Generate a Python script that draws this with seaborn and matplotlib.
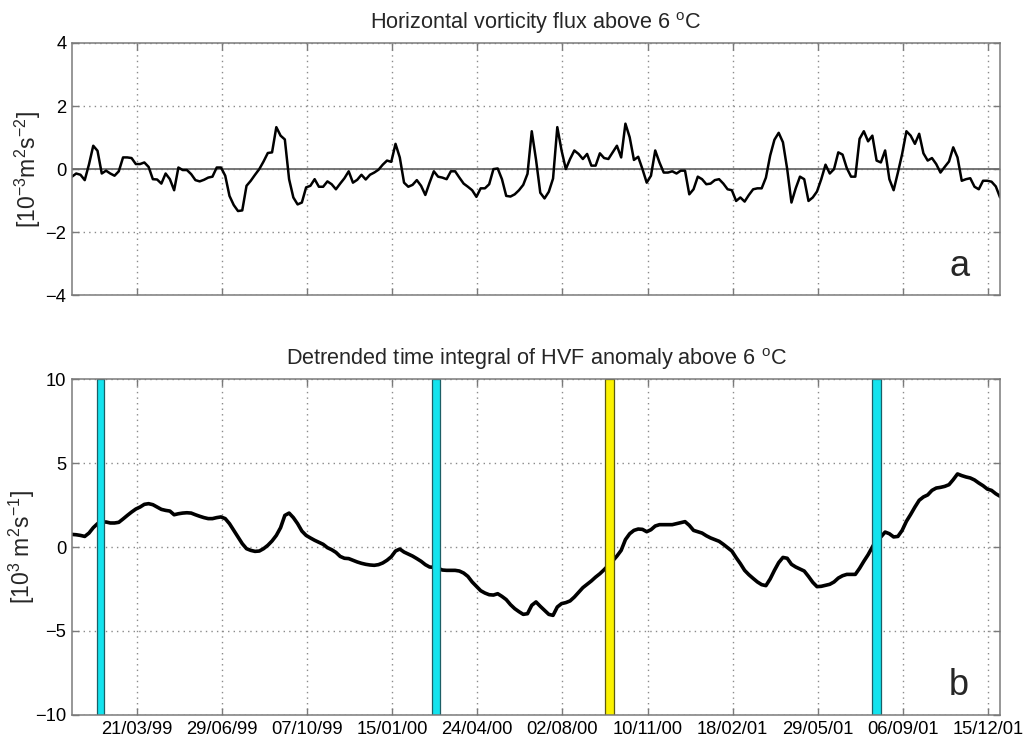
import pandas as pd
import matplotlib
matplotlib.use("Agg")
import matplotlib.pyplot as plt
import matplotlib.dates as mdates
import seaborn as sns

# 5-day sampled series, starting 4 Jan 1999
start_date = "1999-01-04"
sample_step = "5D"

# Horizontal vorticity flux above 6 degC  [1e-3 m^2 s^-2]
hvf = [
    -0.24, -0.14, -0.18, -0.35, 0.15, 0.74, 0.58, -0.14, -0.05, -0.14,
    -0.21, -0.07, 0.37, 0.37, 0.35, 0.16, 0.16, 0.21, 0.07, -0.32,
    -0.33, -0.46, -0.14, -0.32, -0.67, 0.05, -0.03, -0.03, -0.16, -0.35,
    -0.39, -0.34, -0.27, -0.24, 0.05, 0.05, -0.21, -0.85, -1.14, -1.33,
    -1.31, -0.53, -0.37, -0.18, 0.00, 0.24, 0.51, 0.53, 1.33, 1.06,
    0.94, -0.32, -0.90, -1.12, -1.06, -0.58,
    -0.53, -0.32, -0.56, -0.56, -0.39, -0.48, -0.64, -0.46, -0.29, -0.07,
    -0.43, -0.34, -0.18, -0.33, -0.18, -0.11, -0.02, 0.14, 0.27, 0.23,
    0.80, 0.37, -0.43, -0.56, -0.50, -0.35, -0.53, -0.82, -0.43, -0.07,
    -0.24, -0.27, -0.32, -0.07, -0.07, -0.27, -0.46, -0.56, -0.67, -0.88,
    -0.61, -0.61, -0.48, 0.00, 0.02, -0.32, -0.85, -0.87, -0.80, -0.67,
    -0.50, -0.15, 1.20, 0.30,
    -0.75, -0.93, -0.72, -0.30, 1.33, 0.59, 0.00, 0.32, 0.59, 0.48,
    0.32, 0.48, 0.11, 0.11, 0.50, 0.35, 0.32, 0.53, 0.74, 0.37,
    1.44, 1.01, 0.29, 0.39, 0.00, -0.43, -0.21, 0.59, 0.21, -0.11,
    -0.11, -0.07, -0.14, -0.05, -0.05, -0.80, -0.64, -0.24, -0.32, -0.48,
    -0.46, -0.35, -0.32, -0.46, -0.64, -0.67, -1.01, -0.90, -1.03, -0.82,
    -0.64, -0.61, -0.61, -0.27,
    0.43, 0.93, 1.15, 0.85, 0.00, -1.06, -0.61, -0.24, -0.32, -1.01,
    -0.90, -0.71, -0.32, 0.14, -0.14, 0.00, 0.53, 0.46, 0.03, -0.24,
    -0.24, 0.96, 1.20, 0.88, 1.06, 0.27, 0.21, 0.59, -0.32, -0.67,
    -0.11, 0.48, 1.20, 1.06, 0.80, 1.12, 0.50, 0.27, 0.35, 0.16,
    -0.11, 0.07, 0.24, 0.69, 0.37, -0.37, -0.32, -0.29, -0.56, -0.64,
    -0.37, -0.37, -0.40, -0.55, -0.90,
]

# Detrended time integral of the HVF anomaly  [1e3 m^2 s^-1]
hvf_integral = [
    0.75, 0.73, 0.69, 0.63, 0.83, 1.15, 1.39, 1.47, 1.49, 1.43,
    1.43, 1.47, 1.67, 1.88, 2.08, 2.26, 2.38, 2.54, 2.58, 2.52,
    2.38, 2.24, 2.18, 2.14, 1.92, 1.98, 2.02, 2.04, 2.02, 1.92,
    1.83, 1.75, 1.69, 1.69, 1.75, 1.79, 1.69, 1.39, 0.99, 0.60,
    0.20, -0.10, -0.20, -0.26, -0.24, -0.10, 0.10, 0.36, 0.69, 1.15,
    1.88, 2.02, 1.75, 1.39, 0.95, 0.69, 0.54, 0.40, 0.28, 0.16,
    -0.04, -0.16, -0.32, -0.56, -0.67, -0.69, -0.79, -0.89, -0.97, -1.03,
    -1.07, -1.09, -1.05, -0.95, -0.79,
    -0.58, -0.24, -0.12, -0.30, -0.42, -0.54, -0.69, -0.85, -1.05, -1.19,
    -1.21, -1.27, -1.37, -1.39, -1.39, -1.39, -1.43, -1.55, -1.75, -2.08,
    -2.34, -2.60, -2.74, -2.84, -2.86, -2.78, -2.94, -3.13, -3.43, -3.67,
    -3.85, -4.01, -3.97, -3.47, -3.27, -3.53, -3.77, -4.01, -4.07, -3.57,
    -3.37, -3.31, -3.21, -2.98, -2.70, -2.42, -2.22, -2.02, -1.79, -1.59,
    -1.35, -1.09, -0.83, -0.54, -0.20, 0.44, 0.79, 0.99, 1.07, 1.05,
    0.91, 1.03, 1.25, 1.33, 1.33, 1.33, 1.33, 1.39, 1.45, 1.51,
    1.29, 0.99,
    0.91, 0.83, 0.67, 0.54, 0.44, 0.34, 0.16, -0.04, -0.24, -0.63,
    -0.99, -1.39, -1.65, -1.87, -2.08, -2.24, -2.30, -1.90, -1.39, -0.93,
    -0.62, -0.67, -1.03, -1.19, -1.31, -1.43, -1.75, -2.10, -2.36, -2.34,
    -2.28, -2.22, -2.08, -1.85, -1.71, -1.63, -1.63, -1.63, -1.27, -0.85,
    -0.46, 0.00, 0.44, 0.60, 0.89, 0.79, 0.60, 0.63, 0.99, 1.53,
    1.94, 2.38, 2.78, 2.98, 3.10, 3.37, 3.51, 3.55, 3.61, 3.71,
    4.01, 4.35, 4.25, 4.17, 4.11, 3.99, 3.81, 3.65, 3.45, 3.37,
    3.17, 3.02,
]

# Marked events (start, end)
cyan_events = [("1999-02-02", "1999-02-11"),
               ("2000-03-02", "2000-03-11"),
               ("2001-08-01", "2001-08-11")]
yellow_events = [("2000-09-21", "2000-10-01")]

# Date ticks every 100 days
first_tick = "1999-03-21"
n_ticks = 11

flux_ticks = [-4, -2, 0, 2, 4]
integral_ticks = [-10, -5, 0, 5, 10]

title_top = r"Horizontal vorticity flux above 6 $^{\rm o}$C"
title_bottom = r"Detrended time integral of HVF anomaly above 6 $^{\rm o}$C"
ylabel_top = r"[10$^{-3}$m$^{2}$s$^{-2}$]"
ylabel_bottom = r"[10$^{3}$ m$^{2}$s$^{-1}$]"

sns.set_theme(style="white")
plt.rcParams["font.family"] = ["Liberation Sans", "DejaVu Sans"]
plt.rcParams["mathtext.fontset"] = "custom"
plt.rcParams["mathtext.rm"] = "Liberation Sans"
plt.rcParams["mathtext.it"] = "Liberation Sans:italic"
plt.rcParams["mathtext.default"] = "regular"

dates = pd.date_range(start_date, periods=len(hvf), freq=sample_step)
df = pd.DataFrame({"date": dates, "hvf": hvf, "integral": hvf_integral})
ticks = pd.date_range(first_tick, periods=n_ticks, freq="100D")

fig = plt.figure(figsize=(10.31, 7.40), dpi=100)
ax1 = fig.add_axes([0.0698, 0.601, 0.9002, 0.341])
ax2 = fig.add_axes([0.0698, 0.0338, 0.9002, 0.454])

frame_col = "#7a7a7a"
grid_col = "#8a8a8a"

sns.lineplot(data=df, x="date", y="hvf", ax=ax1, color="black", lw=1.8, zorder=3)
ax1.axhline(0, color="#6a6a6a", lw=1.3, zorder=2)

sns.lineplot(data=df, x="date", y="integral", ax=ax2, color="black", lw=2.6, zorder=3)
for s, e in cyan_events:
    ax2.axvspan(pd.Timestamp(s), pd.Timestamp(e), facecolor="#13e3ee",
                edgecolor="#1c5f66", lw=0.9, zorder=4)
for s, e in yellow_events:
    ax2.axvspan(pd.Timestamp(s), pd.Timestamp(e), facecolor="#fbf200",
                edgecolor="#5d5a10", lw=0.9, zorder=4)

for ax, yt, title in ((ax1, flux_ticks, title_top), (ax2, integral_ticks, title_bottom)):
    ax.set_xlim(dates[0], dates[-1])
    ax.set_ylim(yt[0], yt[-1])
    ax.set_yticks(yt)
    ax.set_yticklabels([str(v).replace("-", "\u2212") for v in yt])
    ax.set_xticks(ticks)
    ax.xaxis.set_major_formatter(mdates.DateFormatter("%d/%m/%y"))
    ax.grid(True, linestyle=(0, (1, 3)), color=grid_col, lw=1.0, zorder=1)
    ax.set_axisbelow(True)
    for sp in ax.spines.values():
        sp.set_color(frame_col)
        sp.set_linewidth(1.1)
        sp.set_zorder(5)
    ax.tick_params(direction="in", length=5, width=1, color=frame_col,
                   top=True, right=True, bottom=True, left=True,
                   labelsize=13.2, labelcolor="black", pad=4)
    ax.set_xlabel("")
    ax.set_title(title, fontsize=15.6, pad=10)

ax1.tick_params(labelbottom=False)
ax1.set_ylabel(ylabel_top, fontsize=16.5)
ax2.set_ylabel(ylabel_bottom, fontsize=16.5)
ax1.yaxis.set_label_coords(-0.031, 0.5)
ax2.yaxis.set_label_coords(-0.038, 0.5)

ax1.text(0.956, 0.075, "a", transform=ax1.transAxes, fontsize=26,
         ha="center", va="baseline")
ax2.text(0.956, 0.06, "b", transform=ax2.transAxes, fontsize=26,
         ha="center", va="baseline")

fig.savefig("out.png", dpi=100)
